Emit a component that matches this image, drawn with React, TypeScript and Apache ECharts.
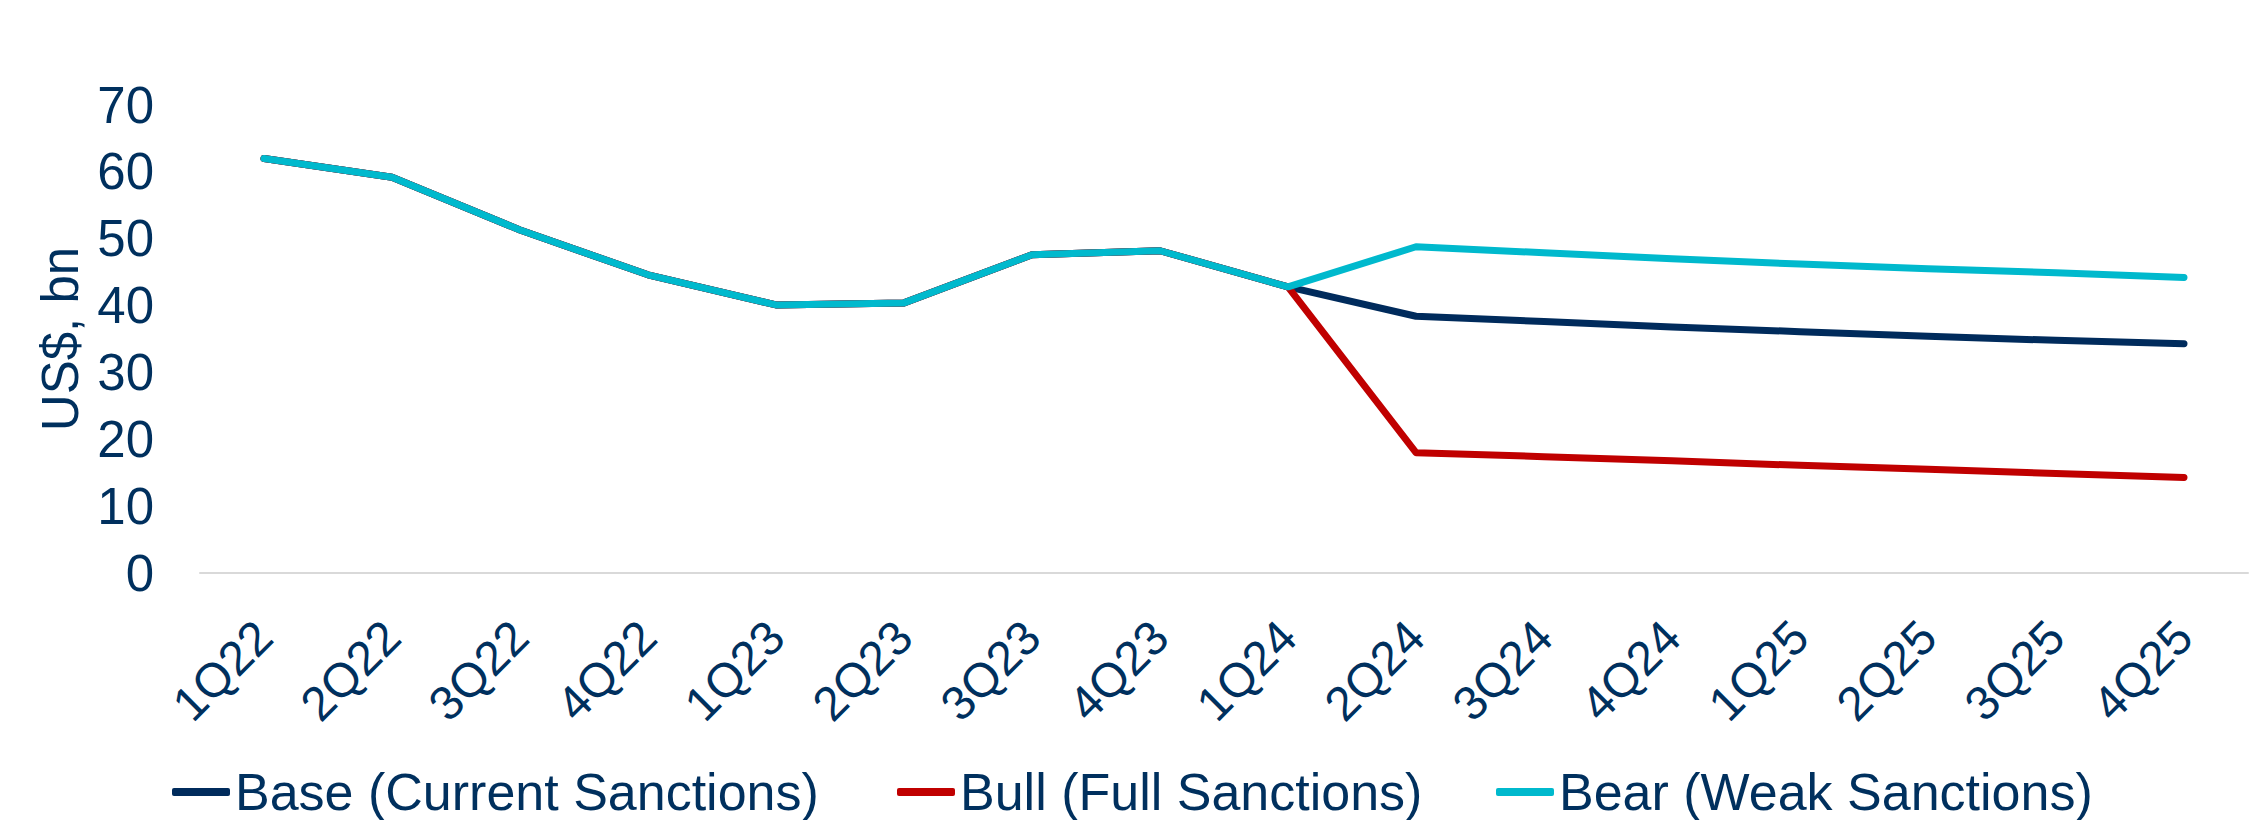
import React, { useEffect, useRef } from "react";
import * as echarts from "echarts";

const categories = [
  "1Q22", "2Q22", "3Q22", "4Q22",
  "1Q23", "2Q23", "3Q23", "4Q23",
  "1Q24", "2Q24", "3Q24", "4Q24",
  "1Q25", "2Q25", "3Q25", "4Q25",
];

const baseValues = [62.0, 59.2, 51.3, 44.6, 40.1, 40.4, 47.6, 48.2, 42.8, 38.4, 37.6, 36.8, 36.1, 35.4, 34.8, 34.3];
const bullValues = [62.0, 59.2, 51.3, 44.6, 40.1, 40.4, 47.6, 48.2, 42.8, 18.0, 17.4, 16.8, 16.1, 15.5, 14.9, 14.3];
const bearValues = [62.0, 59.2, 51.3, 44.6, 40.1, 40.4, 47.6, 48.2, 42.8, 48.8, 47.9, 47.0, 46.2, 45.5, 44.9, 44.2];

const seriesNames = ["Base (Current Sanctions)", "Bull (Full Sanctions)", "Bear (Weak Sanctions)"];
const seriesColors = ["#002B5C", "#C00000", "#00B9CD"];

const yMin = 0;
const yMax = 70;
const yInterval = 10;

const TEXT = "#00305E";
const FONT = "'Liberation Sans', Arial, sans-serif";

export default function App() {
  const ref = useRef<HTMLDivElement>(null);

  useEffect(() => {
    if (!ref.current) return;
    const chart = echarts.init(ref.current, undefined, { renderer: "svg" });
    const values = [baseValues, bullValues, bearValues];
    const legendLefts = [172, 897, 1496];

    chart.setOption({
      animation: false,
      backgroundColor: "#FFFFFF",
      textStyle: { fontFamily: FONT },
      grid: { left: 200, right: 15, top: 105, bottom: 247, containLabel: false },
      legend: seriesNames.map((name, i) => ({
        data: [name],
        left: legendLefts[i],
        top: 766,
        padding: 0,
        icon: "roundRect",
        itemWidth: 58,
        itemHeight: 8,
        textStyle: { color: TEXT, fontSize: 52, fontFamily: FONT },
        selectedMode: false,
      })),
      xAxis: {
        type: "category",
        data: categories,
        boundaryGap: true,
        axisLine: { show: true, lineStyle: { color: "#D9D9D9", width: 2 } },
        axisTick: { show: false },
        axisLabel: {
          rotate: 45,
          interval: 0,
          margin: 56,
          color: TEXT,
          fontSize: 48,
          fontFamily: FONT,
        },
        splitLine: { show: false },
      },
      yAxis: {
        type: "value",
        min: yMin,
        max: yMax,
        interval: yInterval,
        name: "US$, bn",
        nameLocation: "middle",
        nameGap: 112,
        nameTextStyle: { color: TEXT, fontSize: 51, fontFamily: FONT },
        axisLine: { show: false },
        axisTick: { show: false },
        splitLine: { show: false },
        axisLabel: { color: TEXT, fontSize: 51, margin: 46, fontFamily: FONT },
      },
      series: seriesNames.map((name, i) => ({
        name,
        type: "line",
        data: values[i],
        symbol: "none",
        color: seriesColors[i],
        itemStyle: { color: seriesColors[i] },
        lineStyle: { color: seriesColors[i], width: 7, cap: "round", join: "round" },
        z: 2 + i,
      })),
    });

    return () => {
      chart.dispose();
    };
  }, []);

  return (
    <div
      ref={ref}
      style={{ position: "absolute", left: 0, top: 0, width: 2263, height: 820, background: "#fff" }}
    />
  );
}
